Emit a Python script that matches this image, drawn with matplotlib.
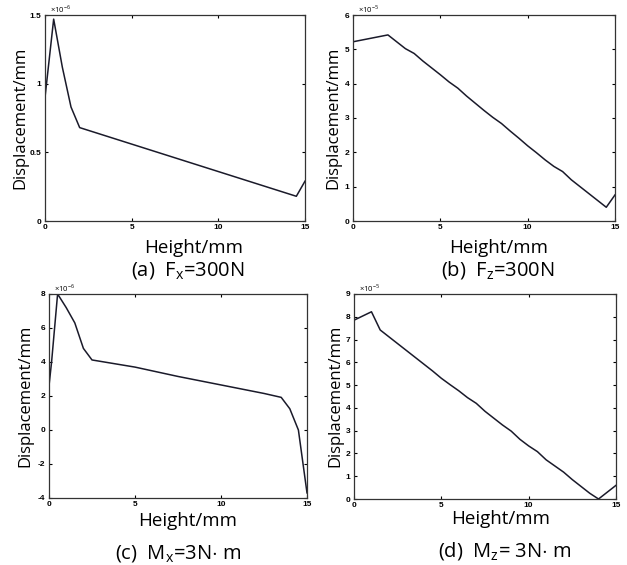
import matplotlib.pyplot as plt
from matplotlib.ticker import FormatStrFormatter

W, H = 627, 565

# (a) Fx = 300N, displacement in 1e-6 mm
a_x = [0, 0.5, 1.0, 1.5, 2.0, 14.5, 15.0]
a_y = [0.90, 1.47, 1.12, 0.83, 0.68, 0.18, 0.29]

# (b) Fz = 300N, displacement in 1e-5 mm
b_x = [0, 2, 2.5, 3, 3.5, 4, 4.5, 5, 5.5, 6, 6.5, 7, 7.5, 8, 8.5, 9, 9.5,
       10, 10.5, 11, 11.5, 12, 12.5, 13, 13.5, 14, 14.5, 15]
b_y = [5.22, 5.42, 5.22, 5.02, 4.88, 4.66, 4.46, 4.26, 4.05, 3.87, 3.64,
       3.43, 3.22, 3.02, 2.84, 2.62, 2.41, 2.19, 1.99, 1.78, 1.59, 1.44,
       1.20, 1.00, 0.80, 0.60, 0.40, 0.76]

# (c) Mx = 3N.m, displacement in 1e-6 mm
c_x = [0, 0.15, 0.5, 1.0, 1.5, 2.0, 2.5, 5.0, 7.5, 10.0, 12.5, 13.5, 14.0, 14.5, 15.0]
c_y = [2.6, 4.0, 8.0, 7.2, 6.3, 4.8, 4.12, 3.7, 3.15, 2.65, 2.15, 1.92, 1.25, 0.0, -3.7]

# (d) Mz = 3N.m, displacement in 1e-5 mm
d_x = [0, 1, 1.5, 2, 2.5, 3, 3.5, 4, 4.5, 5, 5.5, 6, 6.5, 7, 7.5, 8, 8.5, 9,
       9.5, 10, 10.5, 11, 11.5, 12, 12.5, 13, 13.5, 14, 15]
d_y = [7.85, 8.22, 7.42, 7.12, 6.82, 6.52, 6.22, 5.92, 5.62, 5.30, 5.02,
       4.75, 4.45, 4.20, 3.85, 3.55, 3.25, 2.98, 2.62, 2.33, 2.08, 1.72,
       1.45, 1.18, 0.85, 0.55, 0.25, 0.0, 0.6]

panels = [
    # x, y, (left, top, right, bottom) px, ylim, yticks, exponent, xlabel pos, ylabel pos, caption pos, caption
    (a_x, a_y, (45, 15, 305, 221), (0, 1.5), [0, 0.5, 1, 1.5], -6,
     (194, 248), (20, 118), (188, 270), r"(a)  F$_\mathregular{x}$=300N"),
    (b_x, b_y, (353, 15, 615, 221), (0, 6), [0, 1, 2, 3, 4, 5, 6], -5,
     (499, 248), (333, 118), (498, 270), r"(b)  F$_\mathregular{z}$=300N"),
    (c_x, c_y, (49, 294, 307, 498), (-4, 8), [-4, -2, 0, 2, 4, 6, 8], -6,
     (188, 521), (25, 396), (178, 553), r"(c)  M$_\mathregular{x}$=3N$\cdot$ m"),
    (d_x, d_y, (354, 294, 616, 499), (0, 9), list(range(10)), -5,
     (501, 519), (335, 396), (505, 551), r"(d)  M$_\mathregular{z}$= 3N$\cdot$ m"),
]

fig = plt.figure(figsize=(W / 100, H / 100), dpi=100)
plt.rcParams["mathtext.fontset"] = "custom"
plt.rcParams["mathtext.rm"] = "Open Sans"

for x, y, box, ylim, yticks, ex, xl, yl, cp, cap in panels:
    l, t, r, b = box
    ax = fig.add_axes([l / W, 1 - b / H, (r - l) / W, (b - t) / H])
    ax.plot(x, y, color="#1a1a2a", lw=1.1)
    ax.set_xlim(0, 15)
    ax.set_ylim(*ylim)
    ax.set_xticks([0, 5, 10, 15])
    ax.set_yticks(yticks)
    ax.yaxis.set_major_formatter(FormatStrFormatter("%g"))
    ax.tick_params(direction="in", length=2.5, width=0.8, top=True, right=True,
                   labelsize=6, pad=2.5)
    for lbl in ax.get_xticklabels() + ax.get_yticklabels():
        lbl.set_fontweight("bold")
        lbl.set_family("Liberation Sans")
    for s in ax.spines.values():
        s.set_linewidth(0.9)
        s.set_color("#333333")
    ax.text(0.02, 1.0, r"$\times10^{%d}$" % ex, transform=ax.transAxes,
            fontsize=5.5, ha="left", va="bottom")
    fig.text(xl[0] / W, 1 - xl[1] / H, "Height/mm", ha="center", va="center",
             fontdict=dict(family="Open Sans", size=13.5))
    fig.text(yl[0] / W, 1 - yl[1] / H, "Displacement/mm", ha="center", va="center",
             rotation=90, fontdict=dict(family="Open Sans", size=12))
    fig.text(cp[0] / W, 1 - cp[1] / H, cap, ha="center", va="center",
             fontdict=dict(family="Open Sans", size=14.5))

fig.savefig("out.png", dpi=100)
